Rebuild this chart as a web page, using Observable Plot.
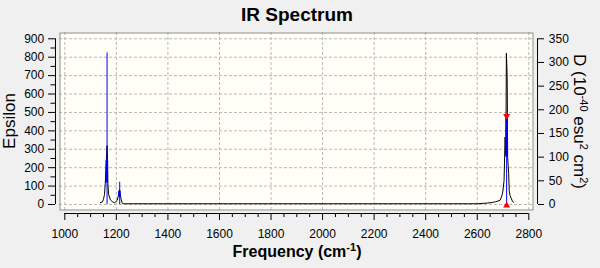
<!DOCTYPE html>
<html><head><meta charset="utf-8">
<script src="https://cdn.jsdelivr.net/npm/d3@7"></script>
<script src="https://cdn.jsdelivr.net/npm/@observablehq/plot@0.6"></script>
<style>
html,body{margin:0;padding:0;background:#f0f0f0;}
#chart{width:600px;height:268px;overflow:hidden;}
svg{display:block;}
</style></head><body><div id="chart"></div>
<script>
// ---- data ----
const freqTicks = [1000, 1200, 1400, 1600, 1800, 2000, 2200, 2400, 2600, 2800];
const epsTicks = [0, 100, 200, 300, 400, 500, 600, 700, 800, 900];
const dTicks = [0, 50, 100, 150, 200, 250, 300, 350];

// broadened spectrum (Epsilon)
const specFreq = [1138, 1146, 1150, 1154, 1157, 1161, 1164, 1166, 1167, 1170, 1177, 1184, 1193, 1203, 1209, 1212, 1215, 1219, 1223, 1229,
  1400, 1800, 2200, 2600, 2640, 2658, 2671, 2688, 2694, 2699, 2704, 2708, 2711, 2713, 2716, 2717, 2718, 2722, 2724, 2727, 2731, 2736, 2740];
const specEps = [10, 14, 28, 54, 116, 240, 320, 240, 116, 54, 25, 16, 9, 22, 54, 80, 54, 25, 7, 4,
  4, 4, 4, 4, 8, 11, 15, 22, 40, 67, 130, 366, 266, 822, 700, 501, 257, 167, 76, 50, 36, 20, 12];

// stick spectrum (D, right axis)
const stickFreq = [1164, 1213, 2714];
const stickD = [320, 47, 187];

// thick blue segments drawn on the sticks (Epsilon units)
const bandFreq = [1163, 1212, 2714];
const bandLow = [116, 40, 257];
const bandHigh = [238, 72, 481];

// selected-mode markers
const selFreq = [2714];
const selTopD = [187];
const selBottomD = [0];

// ---- derived ----
const epsPerD = 900 / 350;
const minorFreq = d3.range(1000, 2801, 50).filter(v => !freqTicks.includes(v));
const minorEps = d3.range(50, 900, 100);
const xDomain = [979.44, 2818.2];
const yDomain = [-32.6, 934.2];

const spec = specFreq.map((f, i) => ({f, e: specEps[i]}));
const sticks = stickFreq.map((f, i) => ({f, e: stickD[i] * epsPerD}));
const bands = bandFreq.map((f, i) => ({f, lo: bandLow[i], hi: bandHigh[i]}));
const selTop = selFreq.map((f, i) => ({f, e: selTopD[i] * epsPerD}));
const selBottom = selFreq.map((f, i) => ({f, e: selBottomD[i] * epsPerD}));

const grid = {stroke: "#b8b8b8", strokeDasharray: "3,2", strokeWidth: 1};
const plain = d => String(d);

const plot = Plot.plot({
  width: 600, height: 268,
  marginLeft: 59, marginRight: 67, marginTop: 32, marginBottom: 58,
  style: {background: "transparent", fontFamily: "'Liberation Sans', Arial, sans-serif", fontSize: "12px", color: "black"},
  x: {domain: xDomain, axis: null, label: null},
  y: {domain: yDomain, axis: null, label: null},
  marks: [
    Plot.frame({fill: "#fffff8", stroke: null}),
    Plot.ruleX(freqTicks, grid),
    Plot.ruleY(epsTicks, grid),
    Plot.frame({stroke: "#8a8a8a", fill: null, inset: 0.5}),
    Plot.line(spec, {x: "f", y: "e", stroke: "black", strokeWidth: 1}),
    Plot.ruleX(sticks, {x: "f", y1: 0, y2: "e", stroke: "#0000ff", strokeWidth: 1}),
    Plot.ruleX(bands, {x: "f", y1: "lo", y2: "hi", stroke: "#0000ff", strokeWidth: 2.5}),
    Plot.dot(selTop, {x: "f", y: "e", symbol: "triangle", r: 2.6, fill: "red", stroke: null, rotate: 180}),
    Plot.dot(selBottom, {x: "f", y: "e", symbol: "triangle", r: 2.6, fill: "red", stroke: null, dy: 1}),
    // x axis
    Plot.ruleY([yDomain[0]], {x1: freqTicks[0], x2: freqTicks[freqTicks.length - 1], dy: 3, stroke: "black"}),
    Plot.axisX(freqTicks, {anchor: "bottom", dy: 3, tickSize: 7, tickPadding: 9, label: null, fontSize: 12, tickFormat: plain}),
    Plot.axisX(minorFreq, {anchor: "bottom", dy: 3, tickSize: 4, fill: "none", label: null}),
    // left axis
    Plot.ruleX([xDomain[0]], {y1: epsTicks[0], y2: epsTicks[epsTicks.length - 1], dx: -4, stroke: "black"}),
    Plot.axisY(epsTicks, {anchor: "left", dx: -4, tickSize: 7, tickPadding: 4.3, label: null, fontSize: 12, tickFormat: plain}),
    Plot.axisY(minorEps, {anchor: "left", dx: -4, tickSize: 4.5, fill: "none", label: null}),
    // right axis (D)
    Plot.ruleX([xDomain[1]], {y1: 0, y2: dTicks[dTicks.length - 1] * epsPerD, dx: 4, stroke: "black"}),
    Plot.axisY(dTicks, {anchor: "right", y: d => d * epsPerD, dx: 4, tickSize: 6, tickPadding: 5.3, tickFormat: plain, label: null, fontSize: 12})
  ]
});

const svg = d3.select(plot);
const font = "'Liberation Sans', Arial, sans-serif";
svg.append("text").attr("x", 297).attr("y", 20.7).attr("text-anchor", "middle")
  .attr("font-family", font).attr("font-size", 19).attr("font-weight", "bold").attr("fill", "black")
  .text("IR Spectrum");
svg.append("text").attr("transform", "translate(15,121) rotate(-90)").attr("text-anchor", "middle")
  .attr("font-family", font).attr("font-size", 17).attr("fill", "black").text("Epsilon");
const xl = svg.append("text").attr("x", 297).attr("y", 257).attr("text-anchor", "middle")
  .attr("font-family", font).attr("font-size", 16).attr("font-weight", "bold").attr("fill", "black");
xl.append("tspan").text("Frequency (cm");
xl.append("tspan").attr("dy", -6).attr("font-size", 11).text("-1");
xl.append("tspan").attr("dy", 6).text(")");
const dl = svg.append("text").attr("transform", "translate(574,121.5) rotate(90)").attr("text-anchor", "middle")
  .attr("font-family", font).attr("font-size", 17).attr("fill", "black");
dl.append("tspan").text("D (10");
dl.append("tspan").attr("dy", -6).attr("font-size", 11).text("-40");
dl.append("tspan").attr("dy", 6).text(" esu");
dl.append("tspan").attr("dy", -6).attr("font-size", 11).text("2");
dl.append("tspan").attr("dy", 6).text(" cm");
dl.append("tspan").attr("dy", -6).attr("font-size", 11).text("2");
dl.append("tspan").attr("dy", 6).text(")");

document.getElementById("chart").appendChild(plot);
</script></body></html>
